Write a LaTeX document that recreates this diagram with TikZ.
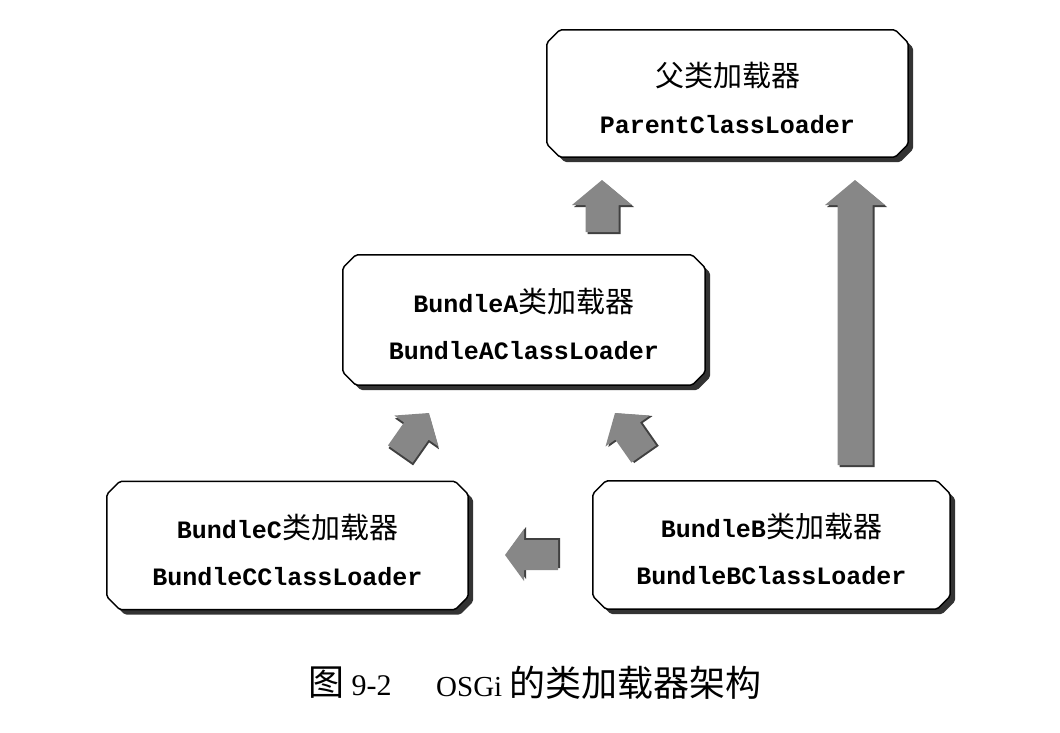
\documentclass[tikz,border=0pt]{standalone}
\usepackage{fontspec}
\setmainfont{Liberation Serif}
\newfontfamily\mono{Liberation Mono}
\newfontfamily\cjk{Noto Sans CJK SC}
\newcommand\zh[1]{{\cjk\mdseries\fontsize{29}{47}\selectfont #1}}
\newcommand\zhcap[1]{{\cjk\fontsize{36}{38}\selectfont #1}}
\newcommand\chamferpath[1]{([xshift=13pt]#1.north west) -- ([xshift=-13pt]#1.north east) -- ([yshift=-13pt]#1.north east) -- ([yshift=13pt]#1.south east) -- ([xshift=-13pt]#1.south east) -- ([xshift=13pt]#1.south west) -- ([yshift=13pt]#1.south west) -- ([yshift=-13pt]#1.north west) -- cycle}
\newcommand\chambox[1]{%
  \fill[boxshadow, transform canvas={shift={(5pt,-5pt)}}] \chamferpath{#1};
  \filldraw[boxline] \chamferpath{#1};}
\tikzset{
  box/.style={rectangle, inner sep=0pt},
  boxshadow/.style={fill=black!80, rounded corners=2pt},
  boxline/.style={fill=white, draw=black, line width=1.5pt, rounded corners=2pt},
  boxtext/.style={align=center, inner sep=0pt, font=\mono\bfseries\fontsize{25}{47}\selectfont},
  arrowfill/.style={fill=black!47},
  arrowshade/.style={fill=black!75},
  pics/fatarrow/.style n args={4}{code={
    \fill[arrowshade] (2,2) -- (#3+2,#4+2) -- (#2+2,#4+2) -- (#2+2,#1+2) -- (-#2+2,#1+2) -- (-#2+2,#4+2) -- (-#3+2,#4+2) -- cycle;
    \fill[arrowfill] (0,0) -- (#3,#4) -- (#2,#4) -- (#2,#1) -- (-#2,#1) -- (-#2,#4) -- (-#3,#4) -- cycle;
  }}
}
\begin{document}
\begin{tikzpicture}[x=1pt,y=-1pt]
\useasboundingbox (0,0) rectangle (1060,732);
\fill[white] (0,0) rectangle (1060,732);

\node[box, minimum width=361pt, minimum height=127pt] (parent) at (727.5,93.5) {};
\node[box, minimum width=362pt, minimum height=130pt] (bA) at (524,320) {};
\node[box, minimum width=361pt, minimum height=128pt] (bC) at (287.5,545.5) {};
\node[box, minimum width=357pt, minimum height=128pt] (bB) at (771.5,545) {};
\chambox{parent}
\chambox{bA}
\chambox{bC}
\chambox{bB}
\node[boxtext] (parentT) at ([yshift=-4pt]parent.center) {\zh{父类加载器}\\ParentClassLoader};
\node[boxtext] (bAT) at ([yshift=-4pt]bA.center) {BundleA\zh{类加载器}\\BundleAClassLoader};
\node[boxtext] (bCT) at ([yshift=-4pt]bC.center) {BundleC\zh{类加载器}\\BundleCClassLoader};
\node[boxtext] (bBT) at ([yshift=-4pt]bB.center) {BundleB\zh{类加载器}\\BundleBClassLoader};

% block arrows
\coordinate (tAP) at (602,180);
\coordinate (tBP) at (855,180);
\coordinate (tCA) at (429,413);
\coordinate (tBA) at (615,413);
\coordinate (tBC) at (505,555);
\pic at (tAP) {fatarrow={52}{16.5}{30}{25}};
\pic at (tBP) {fatarrow={285}{17.5}{30}{25}};
\pic[rotate=-35] at (tCA) {fatarrow={50}{15}{27}{22}};
\pic[rotate=35] at (tBA) {fatarrow={50}{15}{27}{22}};
\pic[rotate=90] at (tBC) {fatarrow={53}{15}{26}{19}};

% caption
\node[anchor=west, inner sep=0pt, font=\fontsize{30}{32}\selectfont] (cap1) at (308,683) {\zhcap{图} 9-2};
\node[anchor=west, inner sep=0pt, font=\fontsize{29}{32}\selectfont] (cap2) at (436,683) {OSGi \zhcap{的类加载器架构}};
\end{tikzpicture}
\end{document}
